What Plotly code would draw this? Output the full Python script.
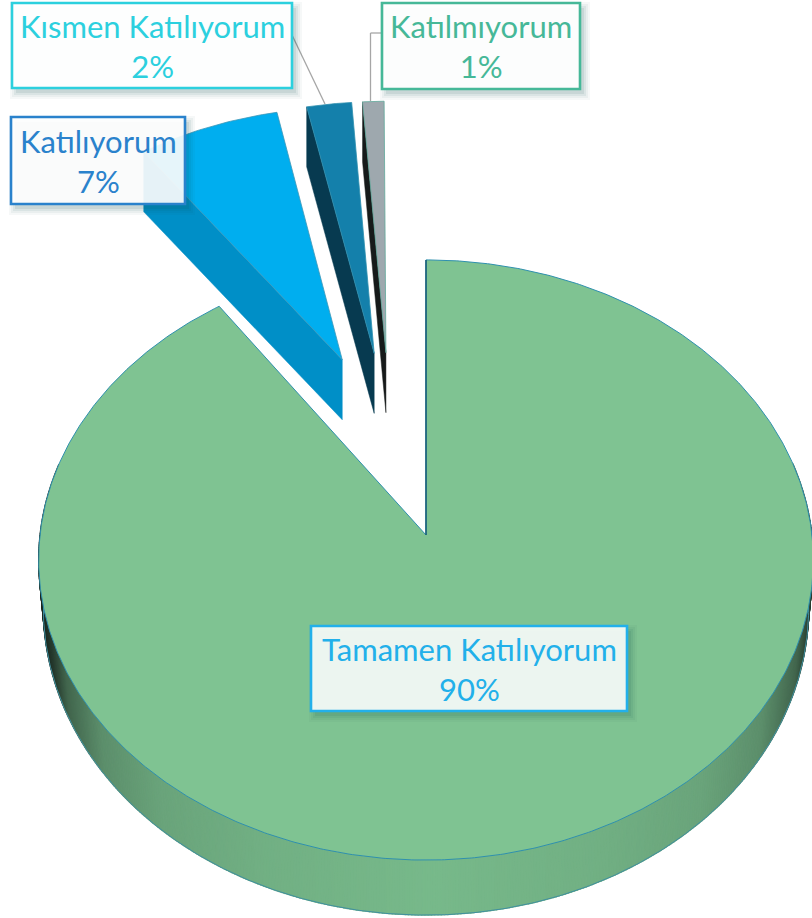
import numpy as np
import plotly.graph_objects as go

labels = ["Tamamen Katılıyorum", "Katılıyorum", "Kısmen Katılıyorum", "Katılmıyorum"]
values = [90.3, 6.6, 2.1, 1.0]
top_colors = ["#7FC392", "#00AEEF", "#1480AB", "#9EA8AE"]
wall_colors = [None, "#008FC7", "#073A50", "#161A1A"]
edge_colors = ["#2F90AE", "#3D97B8", "#2F8FAF", "#5FA89A"]
text_colors = ["#22B0EA", "#2A82CC", "#2CD0DE", "#46B898"]
boxes = [(311, 626, 627, 711, "rgba(255,255,255,0.88)"),
         (11, 117, 185, 204, "rgba(255,255,255,0.90)"),
         (12, 3, 292, 88, "rgba(255,255,255,0.96)"),
         (382, 3, 580, 89, "rgba(255,255,255,0.94)")]

# projection of the tilted disc on the page
CX, CY, RX, RY, PERSP = 426, 535, 386, 298, 0.0833
PULL = 0.33
PULLED_TURN = np.radians(0.8)
PULLED_SCALE = 1.012
DEPTH_PULLED = 60
BASE_SHRINK = 0.988


def project(u, v):
    w = 1 + PERSP * v
    return CX + RX * u / w, CY - RY * v / w


total = sum(values)
edges = np.cumsum([0] + values) / total * 2 * np.pi
mids = (edges[:-1] + edges[1:]) / 2
off_u = PULL * (np.sin(mids) - np.sin(mids[0]))
off_v = PULL * (np.cos(mids) - np.cos(mids[0]))


def rim(i, n):
    a = np.linspace(edges[i], edges[i + 1], n)
    if i > 0:
        a = a - PULLED_TURN
        return project(off_u[i] + PULLED_SCALE * np.sin(a), off_v[i] + PULLED_SCALE * np.cos(a))
    return project(off_u[i] + np.sin(a), off_v[i] + np.cos(a))


fig = go.Figure()


def poly(x, y, fill, line=None, lw=0.0):
    fig.add_trace(go.Scatter(x=list(x), y=list(y), mode="lines", fill="toself",
                             fillcolor=fill, line=dict(color=line or fill, width=lw),
                             hoverinfo="skip", showlegend=False))


def wall_shade(x):
    # darkening towards the two silhouette ends of the side wall
    d = min(x - 40, 822 - x)
    t = np.interp(d, [0, 10, 25, 60, 120, 220, 400], [0, .12, .42, .70, .85, .93, 1])
    dark = np.array([28, 42, 34])
    light = np.array([120, 186, 139])
    return "rgb(%d,%d,%d)" % tuple((dark + (light - dark) * t).astype(int))


# side wall of the large slice: the base rim is a slightly smaller copy of the top rim
N_RIM = 721
xr, yr = rim(0, N_RIM)
a_all = np.linspace(edges[0], edges[1], N_RIM)
xb = CX + (xr - CX) * BASE_SHRINK
yb = yr + 47 + 8 * np.clip(-np.cos(a_all), 0, 1)
front_idx = [k for k in range(N_RIM) if np.pi * 0.42 < a_all[k] < np.pi * 1.58]
for k in front_idx[:-1]:
    c = wall_shade((xr[k] + xr[k + 1]) / 2)
    poly([xr[k], xr[k + 1], xb[k + 1], xb[k], xr[k]],
         [yr[k], yr[k + 1], yb[k + 1], yb[k], yr[k]], c, c, 1.2)
# lower outline of the wall
fig.add_trace(go.Scatter(x=xb[front_idx], y=yb[front_idx], mode="lines",
                         line=dict(color="#3F8FA0", width=1), hoverinfo="skip", showlegend=False))

# pulled slices: cut wall on the left side of each wedge, then top face
for i in range(1, len(values)):
    ax, ay = project(off_u[i], off_v[i])
    rx_, ry_ = rim(i, 40)
    poly([ax, rx_[0], rx_[0], ax, ax],
         [ay, ry_[0], ry_[0] + DEPTH_PULLED, ay + DEPTH_PULLED, ay], wall_colors[i], wall_colors[i], 0.5)
    poly([ax] + list(rx_) + [ax], [ay] + list(ry_) + [ay], top_colors[i], edge_colors[i], 0.8)

# top face of the large slice
ax, ay = project(off_u[0], off_v[0])
poly([ax] + list(xr) + [ax], [ay] + list(yr) + [ay], top_colors[0], edge_colors[0], 1)
fig.add_trace(go.Scatter(x=[ax, xr[0]], y=[ay, yr[0]], mode="lines",
                         line=dict(color="#1B5F78", width=1.6), hoverinfo="skip", showlegend=False))

# leader lines
shapes = [
    dict(type="line", x0=292, y0=35, x1=325, y1=104, line=dict(color="#A6A6A6", width=1.3), layer="above"),
    dict(type="line", x0=382, y0=33, x1=370.5, y1=33, line=dict(color="#A6A6A6", width=1.3), layer="above"),
    dict(type="line", x0=370.5, y0=33, x1=370.5, y1=101, line=dict(color="#A6A6A6", width=1.3), layer="above"),
]

annotations = []
for i, (lab, val) in enumerate(zip(labels, values)):
    x0, y0, x1, y1, bg = boxes[i]
    # soft drop shadow
    for grow, alpha in ((5, 0.04), (3, 0.05), (1, 0.07), (-1, 0.09)):
        shapes.append(dict(type="rect", x0=x0 + 3 - grow, x1=x1 + 5 + grow, y0=y0 + 4 - grow, y1=y1 + 6 + grow,
                           fillcolor="rgba(20,80,80,%.2f)" % alpha, line=dict(width=0), layer="above"))
    shapes.append(dict(type="rect", x0=x0, x1=x1, y0=y0, y1=y1, fillcolor=bg,
                       line=dict(color=text_colors[i], width=2.6), layer="above"))
    annotations.append(dict(x=(x0 + x1) / 2, y=(y0 + y1) / 2, xref="x", yref="y",
                            text=f"{lab}<br>{round(val)}%", showarrow=False, align="center",
                            font=dict(family="Lato", size=31, color=text_colors[i])))

fig.update_layout(
    width=812, height=918, margin=dict(l=0, r=0, t=0, b=0),
    paper_bgcolor="white", plot_bgcolor="white", showlegend=False,
    xaxis=dict(range=[0, 812], visible=False, fixedrange=True),
    yaxis=dict(range=[918, 0], visible=False, fixedrange=True),
    shapes=shapes, annotations=annotations,
)
fig.write_html("out.html", config=dict(displayModeBar=False),
               post_script="document.body.style.margin='0';document.body.style.overflow='hidden';")
